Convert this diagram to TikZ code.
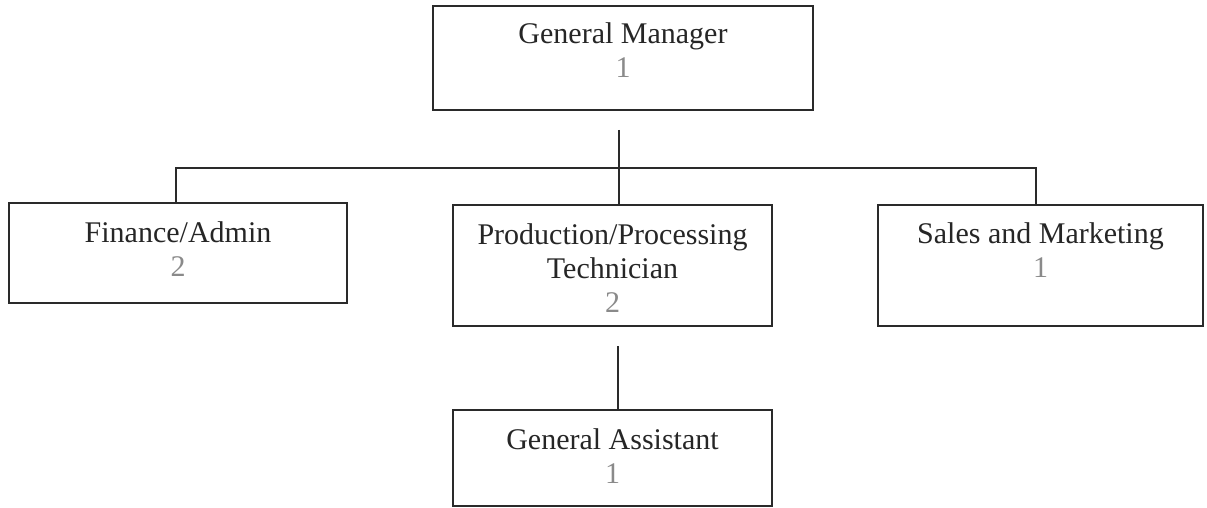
\documentclass[tikz,border=0pt]{standalone}
\usepackage{fontspec}
\setmainfont{Liberation Serif}
\definecolor{numgray}{HTML}{8A8A8A}
\definecolor{linegray}{HTML}{2A2A2A}
\begin{document}
\begin{tikzpicture}[x=1pt,y=-1pt,
  box/.style={draw=linegray,line width=2pt,rectangle,inner sep=0pt,fill=none},
  lbl/.style={align=center,anchor=base,inner sep=0pt,font=\fontsize{30}{34}\selectfont,text=black!85},
  conn/.style={draw=linegray,line width=1.7pt}]
\fill[white] (0,0) rectangle (1207,508);
\useasboundingbox (0,0) rectangle (1207,508);
% boxes
\node[box,minimum width=380pt,minimum height=104pt] (gm) at (623,58) {};
\node[box,minimum width=338pt,minimum height=100pt] (fin) at (178,253) {};
\node[box,minimum width=319pt,minimum height=121pt] (prod) at (612.5,265.5) {};
\node[box,minimum width=325pt,minimum height=121pt] (sales) at (1040.5,265.5) {};
\node[box,minimum width=319pt,minimum height=96pt] (ga) at (612.5,458) {};
% labels (base anchor = baseline of last line)
\node[lbl] (gmt) at (623,78) {General Manager\\\textcolor{numgray}{1}};
\node[lbl] (fint) at (178,276) {Finance/Admin\\\textcolor{numgray}{2}};
\node[lbl] (prodt) at (612.5,312) {Production/Processing\\Technician\\\textcolor{numgray}{2}};
\node[lbl] (salest) at (1040.5,277) {Sales and Marketing\\\textcolor{numgray}{1}};
\node[lbl] (gat) at (612.5,483) {General Assistant\\\textcolor{numgray}{1}};
% connectors
\coordinate (bus) at (619,168);
\coordinate (busL) at (176,168);
\coordinate (busR) at (1036,168);
\coordinate (gmx) at (619,130);
\coordinate (prodx) at (618,346);
\draw[conn] (gmx) -- (bus);
\draw[conn] (bus) -- (prod.north -| bus);
\draw[conn] (fin.north -| busL) -- (busL) -- (busR) -- (sales.north -| busR);
\draw[conn] (prodx) -- (ga.north -| prodx);
\end{tikzpicture}
\end{document}
